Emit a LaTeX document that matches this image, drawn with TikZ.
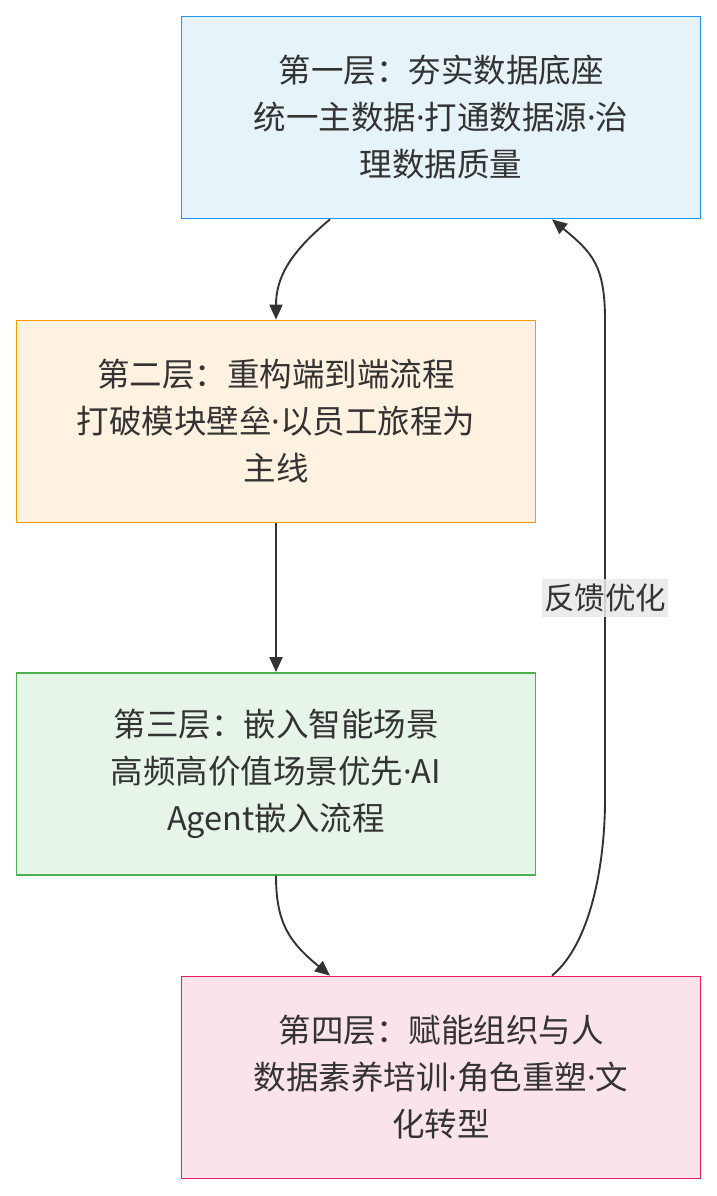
\documentclass[tikz,border=0pt]{standalone}
\usepackage{fontspec}
\setmainfont{Noto Sans CJK SC}
\newfontfamily\latinfont{Noto Sans}
\newcommand{\mdot}{{\latinfont ·}}
\usetikzlibrary{arrows.meta,positioning,calc}
\definecolor{inkgray}{HTML}{333333}
\definecolor{blueline}{HTML}{2196F3}
\definecolor{bluefill}{HTML}{E6F3F8}
\definecolor{orangeline}{HTML}{FF9800}
\definecolor{orangefill}{HTML}{FFF2E0}
\definecolor{greenline}{HTML}{4CAF50}
\definecolor{greenfill}{HTML}{E7F4E8}
\definecolor{pinkline}{HTML}{E91E63}
\definecolor{pinkfill}{HTML}{FBE3EC}
\definecolor{labelbg}{HTML}{E8E8E8}
\tikzset{
  layer/.style={draw, line width=1.8pt, minimum width=519pt, minimum height=202pt,
    align=center, text=inkgray, font=\fontsize{32.5}{47}\selectfont},
  flow/.style={->, draw=inkgray, line width=1.9pt},
  fblabel/.style={fill=labelbg, fill opacity=0.85, text opacity=1, text=inkgray,
    inner xsep=2pt, inner ysep=5pt, font=\fontsize{30.5}{34}\selectfont}
}
\begin{document}
\begin{tikzpicture}[x=1pt,y=-1pt,>={Triangle[length=15pt,width=13pt]}]
\useasboundingbox (0,0) rectangle (717,1196);
% four layers
\node[layer, draw=blueline, fill=bluefill] (l1) at (441,117.5)
  {第一层：夯实数据底座\\统一主数据\mdot 打通数据源\mdot 治\\理数据质量};
\node[layer, draw=orangeline, fill=orangefill] (l2) at (276,421.5)
  {第二层：重构端到端流程\\打破模块壁垒\mdot 以员工旅程为\\主线};
\node[layer, draw=greenline, fill=greenfill] (l3) at (276,774)
  {第三层：嵌入智能场景\\高频高价值场景优先\mdot AI\\Agent嵌入流程};
\node[layer, draw=pinkline, fill=pinkfill] (l4) at (441,1077.5)
  {第四层：赋能组织与人\\数据素养培训\mdot 角色重塑\mdot 文\\化转型};

% downward flow
\draw[flow] ([xshift=-111pt]l1.south) .. controls +(-40,33) and +(0,-42) .. (l2.north);
\draw[flow] (l2.south) -- (l3.north);
\draw[flow] (l3.south) .. controls +(0,48) and +(-40,-33) .. ([xshift=-111pt]l4.north);

% feedback loop
\coordinate (up) at (605,800);
\coordinate (top) at (605,320);
\draw[flow] ([xshift=111pt]l4.north) .. controls +(40,-33) and +(0,60) .. (up)
  -- (top) .. controls +(0,-55) and +(40,33) .. ([xshift=111pt]l1.south);
\node[fblabel] (fb) at (605,598) {反馈优化};
\end{tikzpicture}
\end{document}
